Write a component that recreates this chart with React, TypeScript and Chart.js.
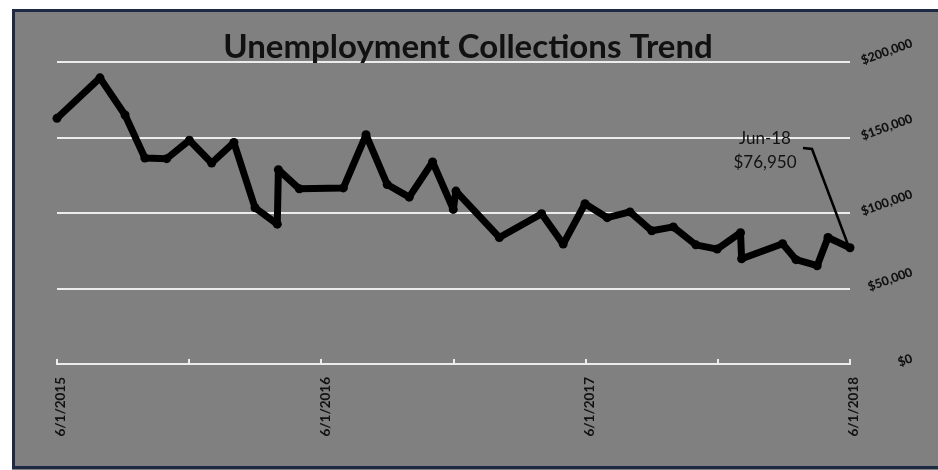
import { useEffect, useRef } from 'react';
import { Chart, registerables } from 'chart.js';

Chart.register(...registerables);

// Months elapsed since 6/1/2015 for each observation
const monthsSinceJun2015 = [
  0, 1.95, 3.09, 3.99, 4.98, 6.01, 7.02, 8.03, 8.99, 10.0,
  10.05, 11.0, 13.0, 14.03, 14.99, 15.99, 17.05, 17.99, 18.11, 20.08,
  22.0, 22.98, 23.97, 24.98, 26.01, 27.0, 27.98, 29.0, 29.97, 31.03,
  31.08, 32.94, 33.55, 34.51, 35.0, 36.0,
];
// Unemployment collections ($)
const collections = [
  162700, 189500, 164900, 136400, 136000, 148200, 133100, 146700, 103500, 92600,
  128700, 116000, 116600, 151800, 118900, 110500, 133800, 102400, 114500, 83800,
  99500, 79400, 106100, 96900, 100700, 88200, 90800, 78900, 76100, 87000,
  69700, 79600, 69100, 65100, 83800, 76950,
];

const xTickMonths = [0, 12, 24, 36];
const xTickLabels = ['6/1/2015', '6/1/2016', '6/1/2017', '6/1/2018'];
const yTickValues = [0, 50000, 100000, 150000, 200000];
const yTickLabels = ['$0', '$50,000', '$100,000', '$150,000', '$200,000'];

const chartTitle = 'Unemployment Collections Trend';
const calloutLines = ['Jun-18', '$76,950'];

const FONT = 'Lato, "Open Sans", sans-serif';

const decorPlugin = {
  id: 'decor',
  beforeDraw(chart: any) {
    const { ctx, width, height } = chart;
    ctx.save();
    ctx.fillStyle = '#ffffff';
    ctx.fillRect(0, 0, width, height);
    ctx.fillStyle = '#808080';
    ctx.fillRect(12, 9, width, height);
    ctx.strokeStyle = '#1e2a44';
    ctx.lineWidth = 3;
    ctx.strokeRect(13.5, 10.5, width + 10, height - 13);
    ctx.restore();
  },
  afterDraw(chart: any) {
    const { ctx, scales, chartArea } = chart;
    const x = scales.x;
    const y = scales.y;
    ctx.save();

    // x-axis tick marks (pointing up)
    ctx.strokeStyle = '#ececec';
    ctx.lineWidth = 2;
    for (let m = 0; m <= 36; m += 6) {
      const px = Math.round(x.getPixelForValue(m));
      ctx.beginPath();
      ctx.moveTo(px, chartArea.bottom + 1);
      ctx.lineTo(px, chartArea.bottom - 5);
      ctx.stroke();
    }

    // y-axis labels on right, rotated
    ctx.font = `900 12.5px ${FONT}`;
    ctx.fillStyle = '#111';
    ctx.textBaseline = 'middle';
    ctx.textAlign = 'left';
    const ang = (20 * Math.PI) / 180;
    yTickValues.forEach((v, i) => {
      const label = yTickLabels[i];
      const w = ctx.measureText(label).width;
      const py = y.getPixelForValue(v);
      const lx = 912 - w * Math.cos(ang);
      ctx.save();
      ctx.translate(lx, py - 1);
      ctx.rotate(-ang);
      ctx.fillText(label, 0, 0);
      ctx.restore();
    });

    // title
    ctx.font = `bold 33px ${FONT}`;
    ctx.fillStyle = '#111';
    ctx.textAlign = 'center';
    ctx.textBaseline = 'alphabetic';
    ctx.fillText(chartTitle, 468, 58);

    // callout
    ctx.font = `17px ${FONT}`;
    ctx.fillStyle = '#111';
    ctx.textAlign = 'center';
    ctx.fillText(calloutLines[0], 765, 144);
    ctx.fillText(calloutLines[1], 765, 168);

    const meta = chart.getDatasetMeta(0);
    const last = meta.data[meta.data.length - 1];
    ctx.strokeStyle = '#000';
    ctx.lineWidth = 2.5;
    ctx.beginPath();
    ctx.moveTo(803, 148);
    ctx.lineTo(812, 149);
    ctx.lineTo(last.x - 2, last.y - 3);
    ctx.stroke();

    ctx.restore();
  },
};

export default function App() {
  const ref = useRef<HTMLCanvasElement>(null);

  useEffect(() => {
    const chart = new Chart(ref.current as HTMLCanvasElement, {
      type: 'line',
      data: {
        datasets: [
          {
            data: monthsSinceJun2015.map((m, i) => ({ x: m, y: collections[i] })),
            borderColor: '#000',
            borderWidth: 7,
            pointRadius: 4.5,
            pointBackgroundColor: '#000',
            pointBorderWidth: 0,
            borderJoinStyle: 'round',
            borderCapStyle: 'round',
            tension: 0,
            clip: false,
          } as any,
        ],
      },
      options: {
        animation: false,
        responsive: true,
        maintainAspectRatio: false,
        layout: { padding: { left: 57, right: 88, top: 62, bottom: 0 } },
        plugins: {
          legend: { display: false },
          title: { display: false },
          tooltip: { enabled: false },
        },
        scales: {
          x: {
            type: 'linear',
            min: 0,
            max: 36,
            grid: { display: false },
            border: { display: false },
            afterFit: (s: any) => {
              s.height = 106;
            },
            ticks: {
              stepSize: 6,
              autoSkip: false,
              minRotation: 90,
              maxRotation: 90,
              padding: 5,
              labelOffset: 4,
              color: '#111',
              font: { family: FONT, weight: 'bold', size: 13.5 },
              callback: (v: any) => {
                const idx = xTickMonths.indexOf(Number(v));
                return idx >= 0 ? xTickLabels[idx] : '';
              },
            },
          },
          y: {
            position: 'right',
            min: 0,
            max: 200000,
            afterFit: (s: any) => {
              s.width = 0;
            },
            ticks: { display: false, stepSize: 50000 },
            grid: { color: '#ececec', lineWidth: 2, drawTicks: false },
            border: { display: false },
          },
        },
      } as any,
      plugins: [decorPlugin],
    });
    return () => chart.destroy();
  }, []);

  return (
    <div style={{ position: 'absolute', left: 0, top: 0, width: 938, height: 470 }}>
      <canvas ref={ref} />
    </div>
  );
}
